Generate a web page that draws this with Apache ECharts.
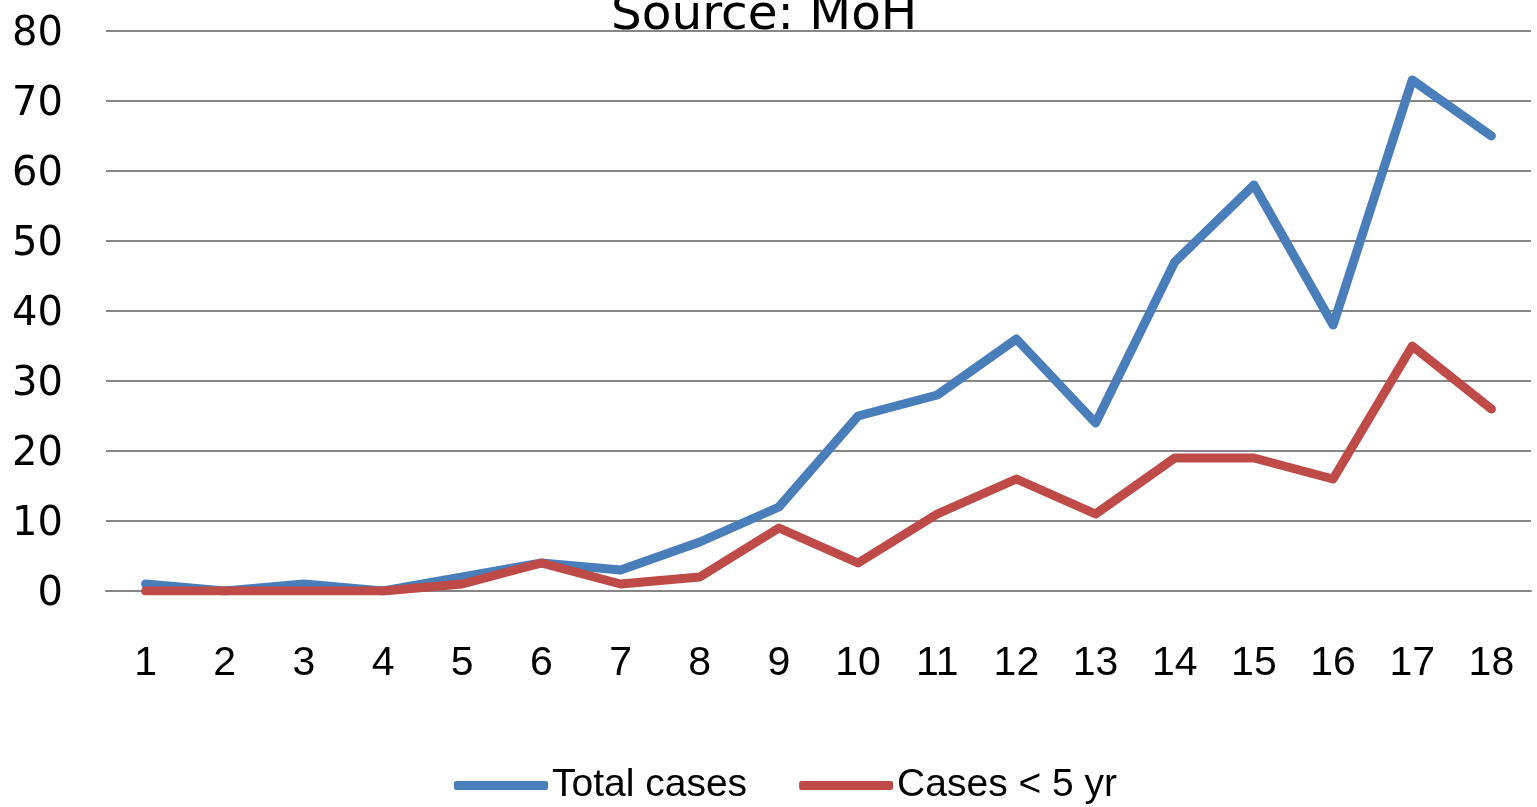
<!DOCTYPE html>
<html><head><meta charset="utf-8">
<script src="https://cdn.jsdelivr.net/npm/echarts@6/dist/echarts.min.js"></script>
<style>html,body{margin:0;padding:0;background:#fff}#c{width:1537px;height:807px}</style>
</head><body><div id="c"></div>
<script>
const categories = ['1','2','3','4','5','6','7','8','9','10','11','12','13','14','15','16','17','18'];
const totalCases = [1,0,1,0,2,4,3,7,12,25,28,36,24,47,58,38,73,65];
const casesUnder5 = [0,0,0,0,1,4,1,2,9,4,11,16,11,19,19,16,35,26];
const yTicks = [0,10,20,30,40,50,60,70,80];

const chart = echarts.init(document.getElementById('c'));
const sans = '"Liberation Sans", Arial, sans-serif';
chart.setOption({
  animation: false,
  title: {
    text: 'Source: MoH', left: 606, top: -13,
    textStyle: { fontFamily: '"DejaVu Sans"', fontSize: 48.5, fontWeight: 'normal', color: '#000' }
  },
  grid: { left: 106, right: 6, top: 31, bottom: 216, containLabel: false },
  legend: {
    bottom: -3, left: 449, itemWidth: 94, itemHeight: 9, itemGap: 52,
    icon: 'roundRect',
    textStyle: { fontFamily: sans, fontSize: 39, color: '#000', padding: [0,0,0,-1] },
    data: ['Total cases', 'Cases < 5 yr']
  },
  xAxis: {
    type: 'category', data: categories, boundaryGap: true,
    axisLine: { lineStyle: { color: '#868686', width: 2 } },
    axisTick: { show: false },
    axisLabel: { margin: 52, fontFamily: sans, fontSize: 41, color: '#000' }
  },
  yAxis: {
    type: 'value', min: yTicks[0], max: yTicks[yTicks.length-1], interval: 10,
    axisLine: { show: false }, axisTick: { show: false },
    splitLine: { lineStyle: { color: '#868686', width: 2 } },
    axisLabel: { margin: 43, fontFamily: '"DejaVu Sans"', fontSize: 40, color: '#000', verticalAlign: 'top', lineHeight: 8 }
  },
  series: [
    { name: 'Total cases', type: 'line', data: totalCases, showSymbol: false, symbol: 'none',
      lineStyle: { color: '#4A7EBB', width: 9, cap: 'round', join: 'round' }, itemStyle: { color: '#4A7EBB' } },
    { name: 'Cases < 5 yr', type: 'line', data: casesUnder5, showSymbol: false, symbol: 'none',
      lineStyle: { color: '#BE4B48', width: 9, cap: 'round', join: 'round' }, itemStyle: { color: '#BE4B48' } }
  ]
});
</script></body></html>
